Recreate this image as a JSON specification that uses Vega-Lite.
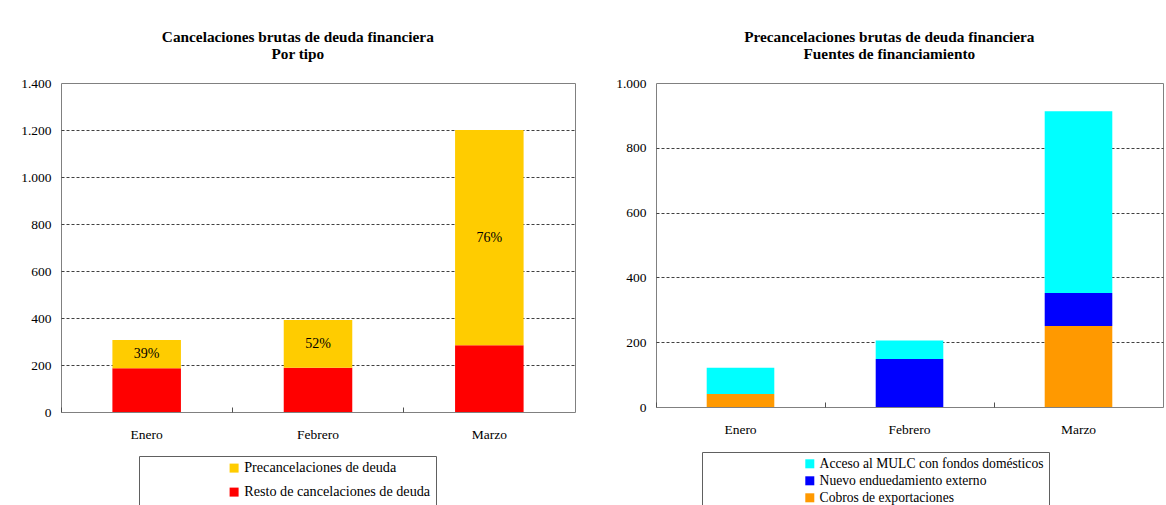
{
  "$schema": "https://vega.github.io/schema/vega-lite/v6.json",
  "padding": {"left": 20, "top": 29, "right": 0, "bottom": 0},
  "background": "white",
  "config": {
    "font": "Liberation Serif, DejaVu Serif, serif",
    "view": {"stroke": "#808080", "strokeWidth": 1},
    "axis": {"labelFont": "Liberation Serif, DejaVu Serif, serif", "labelFontSize": 13.5, "labelColor": "black", "title": null},
    "text": {"font": "Liberation Serif, DejaVu Serif, serif"},
    "concat": {"spacing": 39},
    "legend": {
      "orient": "none",
      "title": null,
      "strokeColor": "#606060",
      "fillColor": "white",
      "padding": 5,
      "symbolType": "square",
      "symbolSize": 81,
      "symbolStrokeWidth": 0,
      "labelFont": "Liberation Serif, DejaVu Serif, serif",
      "labelFontSize": 13.6,
      "labelColor": "black",
      "labelLimit": 400,
      "labelOffset": 3
    }
  },
  "resolve": {"scale": {"color": "independent"}, "legend": {"color": "independent"}},
  "datasets": {
    "tipo": [
      {"mes": "Enero", "tipo": "Resto de cancelaciones de deuda", "valor": 186, "orden": 1, "pct": ""},
      {"mes": "Enero", "tipo": "Precancelaciones de deuda", "valor": 120, "orden": 2, "pct": "39%"},
      {"mes": "Febrero", "tipo": "Resto de cancelaciones de deuda", "valor": 188, "orden": 1, "pct": ""},
      {"mes": "Febrero", "tipo": "Precancelaciones de deuda", "valor": 203, "orden": 2, "pct": "52%"},
      {"mes": "Marzo", "tipo": "Resto de cancelaciones de deuda", "valor": 284, "orden": 1, "pct": ""},
      {"mes": "Marzo", "tipo": "Precancelaciones de deuda", "valor": 916, "orden": 2, "pct": "76%"}
    ],
    "fuentes": [
      {"mes": "Enero", "fuente": "Cobros de exportaciones", "valor": 40, "orden": 1},
      {"mes": "Enero", "fuente": "Acceso al MULC con fondos domésticos", "valor": 81, "orden": 3},
      {"mes": "Febrero", "fuente": "Nuevo enduedamiento externo", "valor": 148, "orden": 2},
      {"mes": "Febrero", "fuente": "Acceso al MULC con fondos domésticos", "valor": 57, "orden": 3},
      {"mes": "Marzo", "fuente": "Cobros de exportaciones", "valor": 250, "orden": 1},
      {"mes": "Marzo", "fuente": "Nuevo enduedamiento externo", "valor": 102, "orden": 2},
      {"mes": "Marzo", "fuente": "Acceso al MULC con fondos domésticos", "valor": 561, "orden": 3}
    ]
  },
  "hconcat": [
    {
      "width": 514,
      "height": 329,
      "title": {
        "text": ["Cancelaciones brutas de deuda financiera", "Por tipo"],
        "font": "Liberation Serif, DejaVu Serif, serif",
        "fontSize": 15.3,
        "fontWeight": "bold",
        "color": "black",
        "lineHeight": 17,
        "offset": 14,
        "frame": "bounds"
      },
      "data": {"name": "tipo"},
      "layer": [
        {
          "mark": {"type": "bar"},
          "encoding": {
            "x": {
              "field": "mes", "type": "nominal", "sort": ["Enero", "Febrero", "Marzo"],
              "scale": {"paddingInner": 0.6, "paddingOuter": 0.3},
              "axis": {"labelAngle": 0, "domain": false, "ticks": false, "tickSize": 0, "labelPadding": 15, "grid": false}
            },
            "y": {
              "field": "valor", "type": "quantitative", "stack": "zero",
              "scale": {"domain": [0, 1400]},
              "axis": {
                "values": [0, 200, 400, 600, 800, 1000, 1200, 1400],
                "domain": false, "ticks": false, "tickSize": 0, "labelPadding": 10,
                "grid": true, "gridDash": [3, 2], "gridColor": "#404040",
                "gridOpacity": {"condition": {"test": "datum.value === 0 || datum.value === 1400", "value": 0}, "value": 1},
                "labelExpr": "replace(format(datum.value, ','), ',', '.')"
              }
            },
            "color": {
              "field": "tipo", "type": "nominal",
              "scale": {"domain": ["Precancelaciones de deuda", "Resto de cancelaciones de deuda"], "range": ["#FFCC00", "#FF0000"]},
              "legend": {"legendX": 78, "legendY": 373, "symbolOffset": 83, "rowPadding": 9, "labelFontSize": 14.2}
            },
            "order": {"field": "orden", "type": "quantitative"}
          }
        },
        {
          "mark": {"type": "text", "font": "Liberation Serif, DejaVu Serif, serif", "fontSize": 14, "color": "black", "baseline": "middle"},
          "encoding": {
            "x": {
              "field": "mes", "type": "nominal", "sort": ["Enero", "Febrero", "Marzo"],
              "axis": {"orient": "bottom", "labels": false, "domain": false, "grid": false, "ticks": true, "tickSize": 5, "offset": -5, "bandPosition": -0.75, "tickColor": "#505050"}
            },
            "y": {"field": "valor", "type": "quantitative", "stack": "zero", "bandPosition": 0.5},
            "detail": {"field": "tipo"},
            "order": {"field": "orden", "type": "quantitative"},
            "text": {"field": "pct", "type": "nominal"}
          }
        }
      ],
      "resolve": {"axis": {"x": "independent"}}
    },
    {
      "width": 507,
      "height": 324,
      "title": {
        "text": ["Precancelaciones brutas de deuda financiera", "Fuentes de financiamiento"],
        "font": "Liberation Serif, DejaVu Serif, serif",
        "fontSize": 15.3,
        "fontWeight": "bold",
        "color": "black",
        "lineHeight": 17,
        "offset": 14,
        "frame": "bounds"
      },
      "data": {"name": "fuentes"},
      "layer": [
        {
          "mark": {"type": "bar"},
          "encoding": {
            "x": {
              "field": "mes", "type": "nominal", "sort": ["Enero", "Febrero", "Marzo"],
              "scale": {"paddingInner": 0.6, "paddingOuter": 0.3},
              "axis": {"labelAngle": 0, "domain": false, "ticks": false, "tickSize": 0, "labelPadding": 15, "grid": false}
            },
            "y": {
              "field": "valor", "type": "quantitative", "stack": "zero",
              "scale": {"domain": [0, 1000]},
              "axis": {
                "values": [0, 200, 400, 600, 800, 1000],
                "domain": false, "ticks": false, "tickSize": 0, "labelPadding": 10,
                "grid": true, "gridDash": [3, 2], "gridColor": "#404040",
                "gridOpacity": {"condition": {"test": "datum.value === 0 || datum.value === 1000", "value": 0}, "value": 1},
                "labelExpr": "replace(format(datum.value, ','), ',', '.')"
              }
            },
            "color": {
              "field": "fuente", "type": "nominal",
              "scale": {"domain": ["Acceso al MULC con fondos domésticos", "Nuevo enduedamiento externo", "Cobros de exportaciones"], "range": ["#00FFFF", "#0000FF", "#FF9900"]},
              "legend": {"legendX": 46, "legendY": 369, "symbolOffset": 96, "rowPadding": 2}
            },
            "order": {"field": "orden", "type": "quantitative"}
          }
        },
        {
          "mark": {"type": "tick", "opacity": 0},
          "encoding": {
            "x": {
              "field": "mes", "type": "nominal", "sort": ["Enero", "Febrero", "Marzo"],
              "axis": {"orient": "bottom", "labels": false, "domain": false, "grid": false, "ticks": true, "tickSize": 5, "offset": -5, "bandPosition": -0.75, "tickColor": "#505050"}
            }
          }
        }
      ],
      "resolve": {"axis": {"x": "independent"}}
    }
  ]
}
